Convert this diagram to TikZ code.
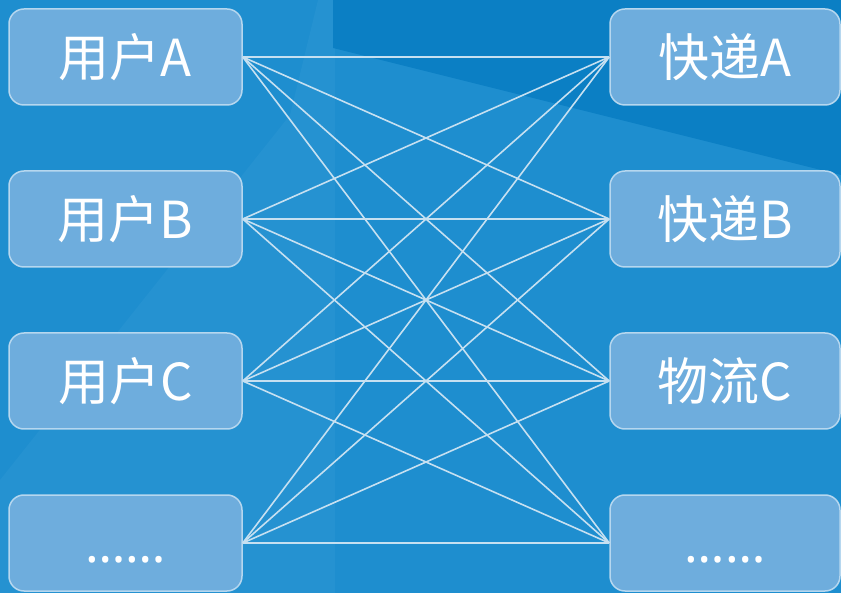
\documentclass[tikz,border=0pt]{standalone}
\usepackage{fontspec}
\setmainfont{Noto Sans CJK SC}
\newfontfamily\latinfont{Noto Sans}
\usepackage{tikz}
\usetikzlibrary{positioning}
\definecolor{bgblue}{HTML}{1E8ECF}
\definecolor{bglight}{HTML}{2592D1}
\definecolor{bgdark}{HTML}{0B7FC4}
\definecolor{boxfill}{HTML}{6EADDD}
\definecolor{boxline}{HTML}{B6D7EF}
\definecolor{linkcol}{HTML}{C6E0F1}

\begin{document}
\begin{tikzpicture}[x=1pt, y=-1pt,
    box/.style={draw=boxline, line width=1.5pt, fill=boxfill, rounded corners=15pt, minimum width=233pt, minimum height=96pt, text=white, font=\fontsize{51}{60}\selectfont},
    link/.style={draw=linkcol, line width=1.6pt}]
    \fill[bgblue] (0,0) rectangle (841,593);
    \fill[bglight] (318,0) -- (335,0) -- (335,593) -- (0,593) -- (0,480) -- (290,115) -- cycle;
    \fill[bgdark] (333,0) -- (841,0) -- (841,175) -- (333,48) -- cycle;
    \useasboundingbox (0,0) rectangle (841,593);
    % users
    \node[box] (uA) at (125.5,57) {用户A};
    \node[box] (uB) at (125.5,219) {用户B};
    \node[box] (uC) at (125.5,381) {用户C};
    \node[box] (uD) at (125.5,543) {\vphantom{用户A}{\latinfont ……}};
    % couriers
    \node[box, minimum width=230pt] (eA) at (725,57) {快递A};
    \node[box, minimum width=230pt] (eB) at (725,219) {快递B};
    \node[box, minimum width=230pt] (eC) at (725,381) {物流C};
    \node[box, minimum width=230pt] (eD) at (725,543) {\vphantom{用户A}{\latinfont ……}};
    \foreach \u in {uA,uB,uC,uD}
        \foreach \e in {eA,eB,eC,eD}
            \draw[link] (\u.east) -- (\e.west);
\end{tikzpicture}
\end{document}
